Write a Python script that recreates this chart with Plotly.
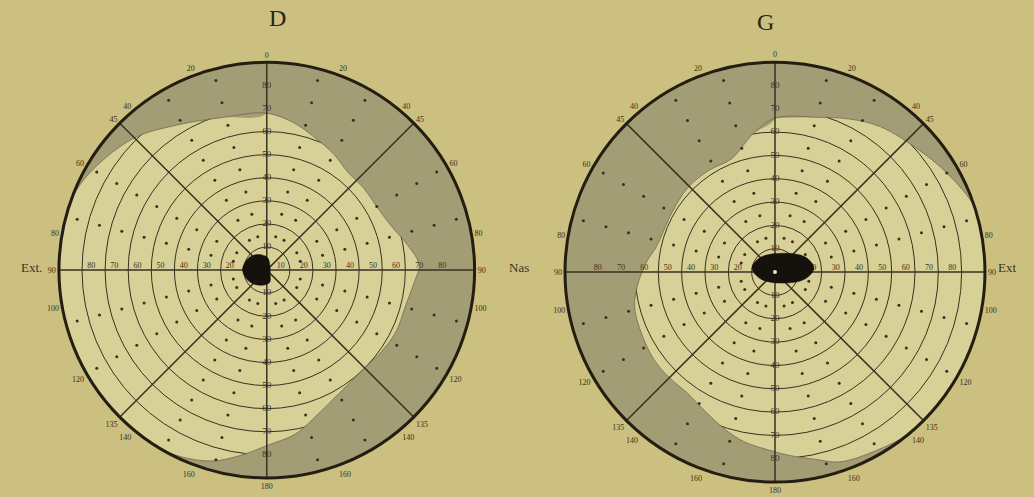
import numpy as np
import plotly.graph_objects as go

# ---- data (meridian angle clockwise from top, eccentricity in degrees)
D_bound_theta = [0, 10, 20, 30, 40, 50, 60, 70, 80, 88, 95, 105, 115, 125, 138, 150, 160, 170, 180,
                 188, 196, 205, 212, 220, 230, 240, 250, 260, 270, 280, 290, 300, 315, 328, 343, 360]
D_bound_r = [68, 65, 61, 58, 55, 55, 55, 57, 62, 66, 64, 62, 62, 61, 60, 62, 66, 72, 76,
             81, 86, 89, 90, 90, 90, 90, 90, 90, 90, 90, 90, 87, 81, 74, 69, 68]

G_bound_theta = [0, 16, 26, 36, 50, 60, 72, 80, 90, 100, 110, 120, 130, 140, 150, 161, 168, 175, 180,
                 190, 197, 206, 216, 225, 234, 245, 256, 265, 275, 282, 300, 314, 327, 339, 351, 360]
G_bound_r = [66, 69, 73, 77, 81, 85, 90, 90, 90, 90, 90, 90, 90, 90, 88, 86, 82, 79, 77,
             74, 71, 67, 64, 64, 64, 63, 62, 59, 55, 52, 51, 52, 52, 52, 60, 66]

D_spot_theta = [5, 90, 135, 166, 198, 235, 270, 300, 321, 342, 365]
D_spot_r = [5.3, 1.5, 2.0, 5.4, 6.9, 9.0, 10.5, 9.6, 8.4, 6.9, 5.3]

G_spot_theta = [23, 63, 84, 103, 144, 243, 280, 317, 383]
G_spot_r = [8.8, 14.4, 16.8, 13.2, 5.8, 6.7, 10.0, 8.8, 8.8]

circle_vals = [10, 20, 30, 40, 50, 60, 70, 80]
spoke_angles = [0, 45, 90, 135]

rim_tickvals = [0, 20, 40, 45, 60, 80, 90, 100, 120, 135, 140, 160, 180,
                200, 220, 225, 240, 260, 270, 280, 300, 315, 320, 340]
rim_ticktext = ["0", "20", "40", "45", "60", "80", "90", "100", "120", "135", "140", "160", "180",
                "160", "140", "135", "120", "100", "90", "80", "60", "45", "40", "20"]

dot_meridians = [15, 30, 60, 75, 105, 120, 150, 165, 195, 210, 240, 255, 285, 300, 330, 345]
dot_radii = [15, 25, 35, 45, 55, 65, 75, 85]

PAPER = "#cbc07f"
FIELD = "#d8d197"
SHADE = "#a29d74"
INK = "#3a3020"
SERIF = "Liberation Serif"

fig = go.Figure()


def add_eye(sub, b_theta, b_r, s_theta, s_r, white_dot):
    ring_t = list(np.arange(0, 361, 2))
    ring_r = [90] * len(ring_t)
    fig.add_trace(go.Scatterpolar(
        theta=ring_t + b_theta[::-1], r=ring_r + b_r[::-1], subplot=sub,
        mode="lines", fill="toself", fillcolor=SHADE,
        line=dict(width=0, color=SHADE, shape="spline"), hoverinfo="skip", showlegend=False))
    fig.add_trace(go.Scatterpolar(
        theta=b_theta, r=b_r, subplot=sub, mode="lines",
        line=dict(width=0.8, color="#6f6b4f", shape="spline"), hoverinfo="skip", showlegend=False))
    dt, dr = [], []
    for m in dot_meridians:
        for rr in dot_radii:
            dt.append(m)
            dr.append(rr)
    fig.add_trace(go.Scatterpolar(
        theta=dt, r=dr, subplot=sub, mode="markers",
        marker=dict(size=3, color=INK), hoverinfo="skip", showlegend=False))
    for a in spoke_angles:
        fig.add_trace(go.Scatterpolar(
            theta=[a, a, a + 180], r=[90, 0, 90], subplot=sub, mode="lines",
            line=dict(width=1.5, color=INK), hoverinfo="skip", showlegend=False))
    lab = [str(v) for v in circle_vals]
    for a in [0, 180]:
        fig.add_trace(go.Scatterpolar(
            theta=[a] * len(circle_vals), r=circle_vals, subplot=sub, mode="text",
            text=lab, textfont=dict(size=9, color=INK, family=SERIF),
            hoverinfo="skip", showlegend=False))
    for a in [90, 270]:
        fig.add_trace(go.Scatterpolar(
            theta=[a] * len(circle_vals), r=[v - 4 for v in circle_vals], subplot=sub, mode="text",
            text=lab, textposition="top center", textfont=dict(size=8, color=INK, family=SERIF),
            hoverinfo="skip", showlegend=False))
    fig.add_trace(go.Scatterpolar(
        theta=s_theta, r=s_r, subplot=sub, mode="lines", fill="toself", fillcolor="#15120d",
        line=dict(width=0.5, color="#15120d", shape="spline"), hoverinfo="skip", showlegend=False))
    if white_dot:
        fig.add_trace(go.Scatterpolar(
            theta=[0], r=[0], subplot=sub, mode="markers",
            marker=dict(size=4, color="#e8e4c0"), hoverinfo="skip", showlegend=False))


add_eye("polar", D_bound_theta, D_bound_r, D_spot_theta, D_spot_r, False)
add_eye("polar2", G_bound_theta, G_bound_r, G_spot_theta, G_spot_r, True)


def polar_layout(domx, domy):
    return dict(
        domain=dict(x=domx, y=domy),
        bgcolor=FIELD,
        radialaxis=dict(range=[0, 90], tickvals=circle_vals, showticklabels=False, ticks="",
                        showline=False, gridcolor=INK, gridwidth=1.2),
        angularaxis=dict(rotation=90, direction="clockwise", tickvals=rim_tickvals,
                         ticktext=rim_ticktext, showgrid=False, showline=True, linecolor="#231d12",
                         linewidth=3, ticks="",
                         tickfont=dict(size=8, family=SERIF, color=INK)),
    )


fig.update_layout(
    width=1034, height=497, autosize=False,
    margin=dict(l=0, r=0, t=0, b=0),
    paper_bgcolor=PAPER, plot_bgcolor=PAPER,
    polar=polar_layout([0.057, 0.459], [0.038, 0.875]),
    polar2=polar_layout([0.546, 0.953], [0.030, 0.875]),
    showlegend=False,
    annotations=[
        dict(text="D", x=0.258, y=1 - 18 / 497, xref="paper", yref="paper", yanchor="middle",
             showarrow=False, font=dict(size=24, family=SERIF, color="#2a2418")),
        dict(text="G", x=0.750, y=1 - 22 / 497, xref="paper", yref="paper", yanchor="middle",
             showarrow=False, font=dict(size=24, family=SERIF, color="#2a2418")),
        dict(text="Ext.", x=0.018, y=0.462, xref="paper", yref="paper", showarrow=False,
             font=dict(size=13, family=SERIF, color="#3a3325")),
        dict(text="Nas", x=0.502, y=0.462, xref="paper", yref="paper", showarrow=False,
             font=dict(size=13, family=SERIF, color="#3a3325")),
        dict(text="Ext", x=0.985, y=0.462, xref="paper", yref="paper", showarrow=False,
             font=dict(size=13, family=SERIF, color="#3a3325")),
    ],
)

fig.write_html("out.html", config={"displayModeBar": False},
               post_script="document.body.style.margin='0';document.body.style.background='" + PAPER + "';")
